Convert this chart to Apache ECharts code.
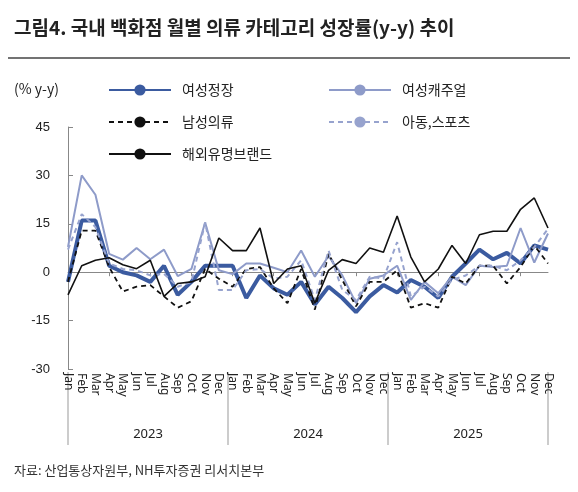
<!DOCTYPE html><html><head><meta charset="utf-8"><script src="https://cdn.jsdelivr.net/npm/echarts@6/dist/echarts.min.js"></script>
<style>body{margin:0;background:#fff}#c{width:578px;height:492px}</style></head><body><div id="c"></div><script>
const months=['Jan','Feb','Mar','Apr','May','Jun','Jul','Aug','Sep','Oct','Nov','Dec'];
const categories=[].concat(months,months,months);
const years=['2023','2024','2025'];
const yTicks=[45,30,15,0,-15,-30];
const womenFormal=[-3,16,16,2,0,-1,-3,2,-7,-3,2,2, 2,-8,-1,-5,-7,-3,-10,-4.5,-8,-12.4,-7.5,-4, -6.3,-2.4,-4.5,-8,-1.4,2.7,7,4,6,2.7,8.3,7];
const womenCasual=[7.8,30,24,5.7,3.9,7.5,4,7,-1.2,1,15.4,0.6, -0.6,2.7,2.7,1.4,0,6.7,-1.4,5,-1,-9.6,-2,-1, 2,-8.6,-3,-6.5,-1.4,-4,2,1.6,2,13.7,3,12];
const men=[-3,12.9,12.9,1.6,-6,-4.5,-4,-7.5,-11,-9,1,-2, -4.5,1,1.6,-5,-9.6,1,-11.6,5.7,-2.4,-10.6,-3,-3, 0.6,-11,-9.6,-11,-1.4,-3.5,2,2,-3.5,1.6,8.3,2.7];
const kidsSports=[7,18,14,2.7,1,0.6,-1,-0.5,-4.5,-3,15.4,-5.5, -5.5,0.6,1,-2,-1.4,3.7,-8.6,6.7,-5.5,-8.6,-1.4,-2, 9.3,-7.5,-4.5,-7.5,-2.4,-1,2,2,0.6,3.7,7.8,13.4];
const luxury=[-7,2,3.7,4.5,2.3,1.1,3.7,-7.5,-3.5,-3,-1.4,10.6, 6.7,6.7,13.7,-3.5,1,2,-9.6,0.6,3.9,2.7,7.5,6.2, 17.4,4.7,-3,1,8.3,2.7,11.6,12.7,12.7,19.5,23,13.7];
const names=['여성정장','여성캐주얼','남성의류','아동,스포츠','해외유명브랜드'];
const ch=echarts.init(document.getElementById('c'));
const L=68,R=548,T=127,B=369;
const step=(R-L)/36;
const g=[
 {type:'text',left:14,top:18,style:{text:'그림4. 국내 백화점 월별 의류 카테고리 성장률(y-y) 추이',font:'bold 19px "Noto Sans CJK KR"',fill:'#222'}},
 {type:'line',shape:{x1:8,y1:58,x2:570,y2:58},style:{stroke:'#444',lineWidth:1.5}},
 {type:'text',left:14,top:82,style:{text:'(% y-y)',font:'14px "Noto Sans CJK KR"',fill:'#222'}},
 {type:'text',left:14,top:464,style:{text:'자료: 산업통상자원부, NH투자증권 리서치본부',font:'13px "Noto Sans CJK KR"',fill:'#333'}}
];
for(let i=0;i<=3;i++){g.push({type:'line',shape:{x1:L+i*12*step,y1:372,x2:L+i*12*step,y2:445},style:{stroke:'#999',lineWidth:1}});}
years.forEach((y,i)=>g.push({type:'text',x:L+(i*12+6)*step,y:428,style:{text:y,font:'13px "Noto Sans"',fill:'#222',align:'center'}}));
const mk=(n,d,c,w,t)=>({name:n,type:'line',data:d,symbol:'none',lineStyle:{color:c,width:w,type:t},itemStyle:{color:c}});
const legPos=[[108,83],[328,83],[108,115],[328,115],[108,147]];
const legends=names.map((n,i)=>({data:[n],left:legPos[i][0],top:legPos[i][1],itemWidth:62,itemHeight:14,itemGap:10,padding:0,
  textStyle:{fontSize:14,fontFamily:'Noto Sans CJK KR',color:'#222',padding:[0,0,0,6]}}));
ch.setOption({animation:false,graphic:g,legend:legends,
 grid:{left:L,right:578-R,top:T,bottom:492-B},
 xAxis:[{type:'category',data:categories,boundaryGap:false,axisLine:{onZero:true,lineStyle:{color:'#888'}},axisTick:{show:true,alignWithLabel:true,length:4,lineStyle:{color:'#888'}},axisLabel:{show:false}},
  {type:'category',data:categories,boundaryGap:false,position:'bottom',axisLine:{show:false},axisTick:{show:false},axisLabel:{rotate:-90,interval:0,fontSize:12,color:'#222',fontFamily:'Noto Sans',margin:4,align:'left'}}],
 yAxis:{type:'value',min:-30,max:45,interval:15,axisLine:{show:true,lineStyle:{color:'#888'}},axisTick:{show:true,inside:true,lineStyle:{color:'#888'}},splitLine:{show:false},axisLabel:{fontSize:13,color:'#222',margin:18}},
 series:[mk(names[0],womenFormal,'#3B5BA0',4,'solid'),mk(names[1],womenCasual,'#8E9BC9',2,'solid'),mk(names[2],men,'#111',1.8,[5,4]),mk(names[3],kidsSports,'#97A3CE',2,[5,4]),mk(names[4],luxury,'#111',1.6,'solid')]
});
</script></body></html>
